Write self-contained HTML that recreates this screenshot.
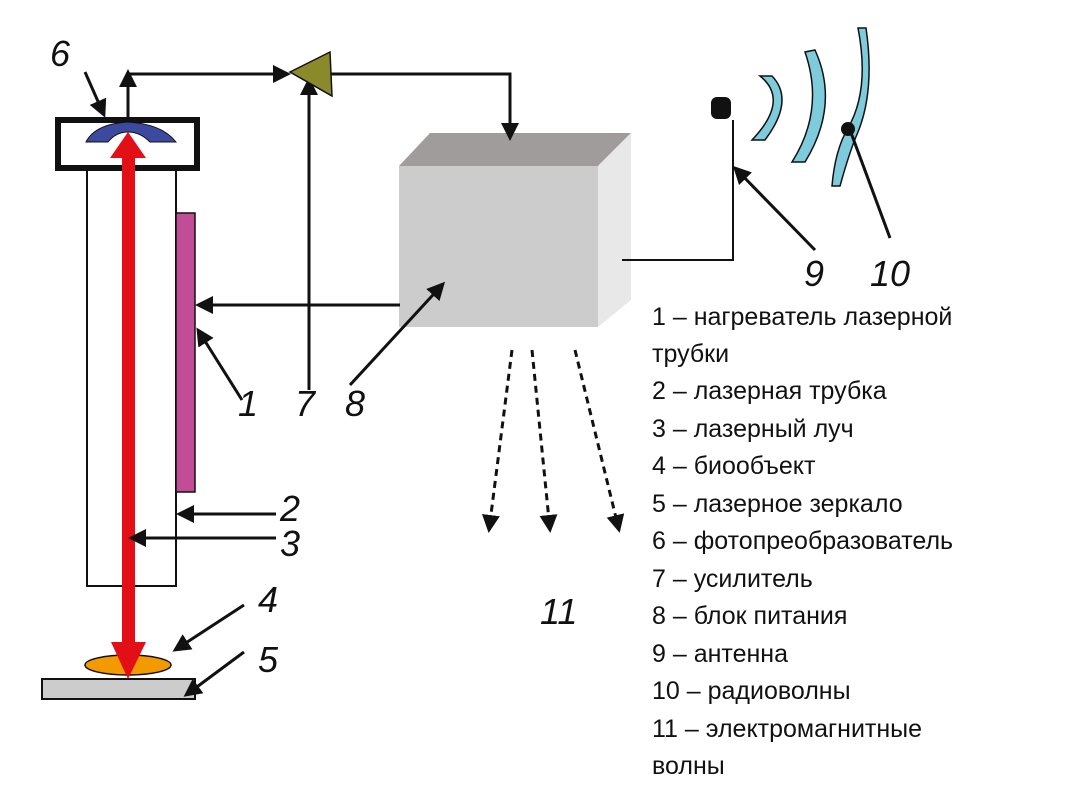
<!DOCTYPE html>
<html><head><meta charset="utf-8"><style>
body{margin:0;background:#fff}
svg{display:block}
.n{font-family:"Liberation Sans",sans-serif;font-style:italic;font-size:36px;fill:#111}
.l{font-family:"Liberation Sans",sans-serif;font-size:25px;fill:#111}
</style></head><body>
<svg width="1086" height="795" viewBox="0 0 1086 795" xmlns="http://www.w3.org/2000/svg">
<defs>
<marker id="a" markerWidth="6" markerHeight="6" refX="5" refY="3" orient="auto" markerUnits="strokeWidth"><path d="M0,0L6,3L0,6z" fill="#111"/></marker>
</defs>
<rect x="87" y="168" width="89" height="418" fill="#fff" stroke="#111" stroke-width="2"/>
<rect x="176" y="213" width="19" height="279" fill="#c04d96" stroke="#111" stroke-width="1.5"/>
<rect x="58" y="120" width="139" height="48" fill="#fff" stroke="#111" stroke-width="6"/>
<path d="M86,142 Q95,124 128,122 Q162,124 176,142 L150,142 Q140,132 128,132 Q116,132 108,142Z" fill="#3b4aa0" stroke="#111" stroke-width="1"/>
<rect x="42" y="679" width="153" height="20" fill="#ccc" stroke="#111" stroke-width="2"/>
<ellipse cx="128" cy="665" rx="43" ry="10" fill="#f29a00" stroke="#111" stroke-width="1.5"/>
<rect x="122" y="155" width="13" height="490" fill="#e30f17"/>
<path d="M128,132 L146,158 L110,158Z" fill="#e30f17"/>
<path d="M111,642 L146,642 L128,679Z" fill="#e30f17"/>
<polygon points="399,166 430,133 631,133 598,166" fill="#a09c9c"/>
<polygon points="598,166 631,133 631,300 598,327" fill="#e8e8e8"/>
<rect x="399" y="166" width="199" height="161" fill="#ccc"/>
<g stroke="#111" stroke-width="3" fill="none">
<polyline points="128,120 128,74 288,74" marker-end="url(#a)"/>
<line x1="128" y1="100" x2="128" y2="72" marker-end="url(#a)"/>
<line x1="309" y1="390" x2="309" y2="80" marker-end="url(#a)"/>
<polyline points="330,74 510,74 510,138" marker-end="url(#a)"/>
<line x1="400" y1="305" x2="198" y2="305" marker-end="url(#a)"/>
<line x1="350" y1="385" x2="443" y2="284" marker-end="url(#a)"/>
<line x1="85" y1="72" x2="104" y2="115" marker-end="url(#a)"/>
<line x1="242" y1="400" x2="198" y2="330" marker-end="url(#a)"/>
<line x1="276" y1="514" x2="179" y2="514" marker-end="url(#a)"/>
<line x1="276" y1="538" x2="131" y2="538" marker-end="url(#a)"/>
<line x1="244" y1="605" x2="175" y2="650" marker-end="url(#a)"/>
<line x1="244" y1="652" x2="186" y2="695" marker-end="url(#a)"/>
<line x1="815" y1="250" x2="735" y2="168" marker-end="url(#a)"/>
</g>
<polygon points="290,72 330,52 332,96" fill="#8a8a2a" stroke="#111" stroke-width="1.5"/>
<polyline points="622,260 733,260 733,120" fill="none" stroke="#111" stroke-width="2"/>
<rect x="711" y="97" width="20" height="22" rx="6" fill="#111"/>
<g fill="#7ecbdc" stroke="#111" stroke-width="1.5">
<path d="M760,76 Q790,100 752,140 L765,140 Q795,100 772,76Z"/>
<path d="M805,52 Q825,110 792,162 L805,162 Q840,105 815,50Z"/>
<path d="M858,28 Q870,90 848,128 Q835,150 832,186 L840,186 Q850,150 858,132 Q875,90 866,28Z"/>
</g>
<circle cx="848" cy="129" r="7" fill="#111"/>
<line x1="890" y1="238" x2="850" y2="130" stroke="#111" stroke-width="3"/>
<g stroke="#111" stroke-width="3" fill="none" stroke-dasharray="7,5">
<line x1="512" y1="350" x2="489" y2="530" marker-end="url(#a)"/>
<line x1="532" y1="350" x2="550" y2="530" marker-end="url(#a)"/>
<line x1="575" y1="350" x2="619" y2="530" marker-end="url(#a)"/>
</g>
<text class="n" x="50" y="66">6</text>
<text class="n" x="238" y="416">1</text>
<text class="n" x="295" y="416">7</text>
<text class="n" x="345" y="416">8</text>
<text class="n" x="280" y="521">2</text>
<text class="n" x="280" y="556">3</text>
<text class="n" x="258" y="612">4</text>
<text class="n" x="258" y="672">5</text>
<text class="n" x="804" y="286">9</text>
<text class="n" x="870" y="286">10</text>
<text class="n" x="540" y="624">11</text>
<g class="l">
<text x="652" y="325">1 – нагреватель лазерной</text>
<text x="652" y="362">трубки</text>
<text x="652" y="399">2 – лазерная трубка</text>
<text x="652" y="437">3 – лазерный луч</text>
<text x="652" y="474">4 – биообъект</text>
<text x="652" y="512">5 – лазерное зеркало</text>
<text x="652" y="549">6 – фотопреобразователь</text>
<text x="652" y="587">7 – усилитель</text>
<text x="652" y="624">8 – блок питания</text>
<text x="652" y="662">9 – антенна</text>
<text x="652" y="699">10 – радиоволны</text>
<text x="652" y="737">11 – электромагнитные</text>
<text x="652" y="774">волны</text>
</g>
</svg>
</body></html>
